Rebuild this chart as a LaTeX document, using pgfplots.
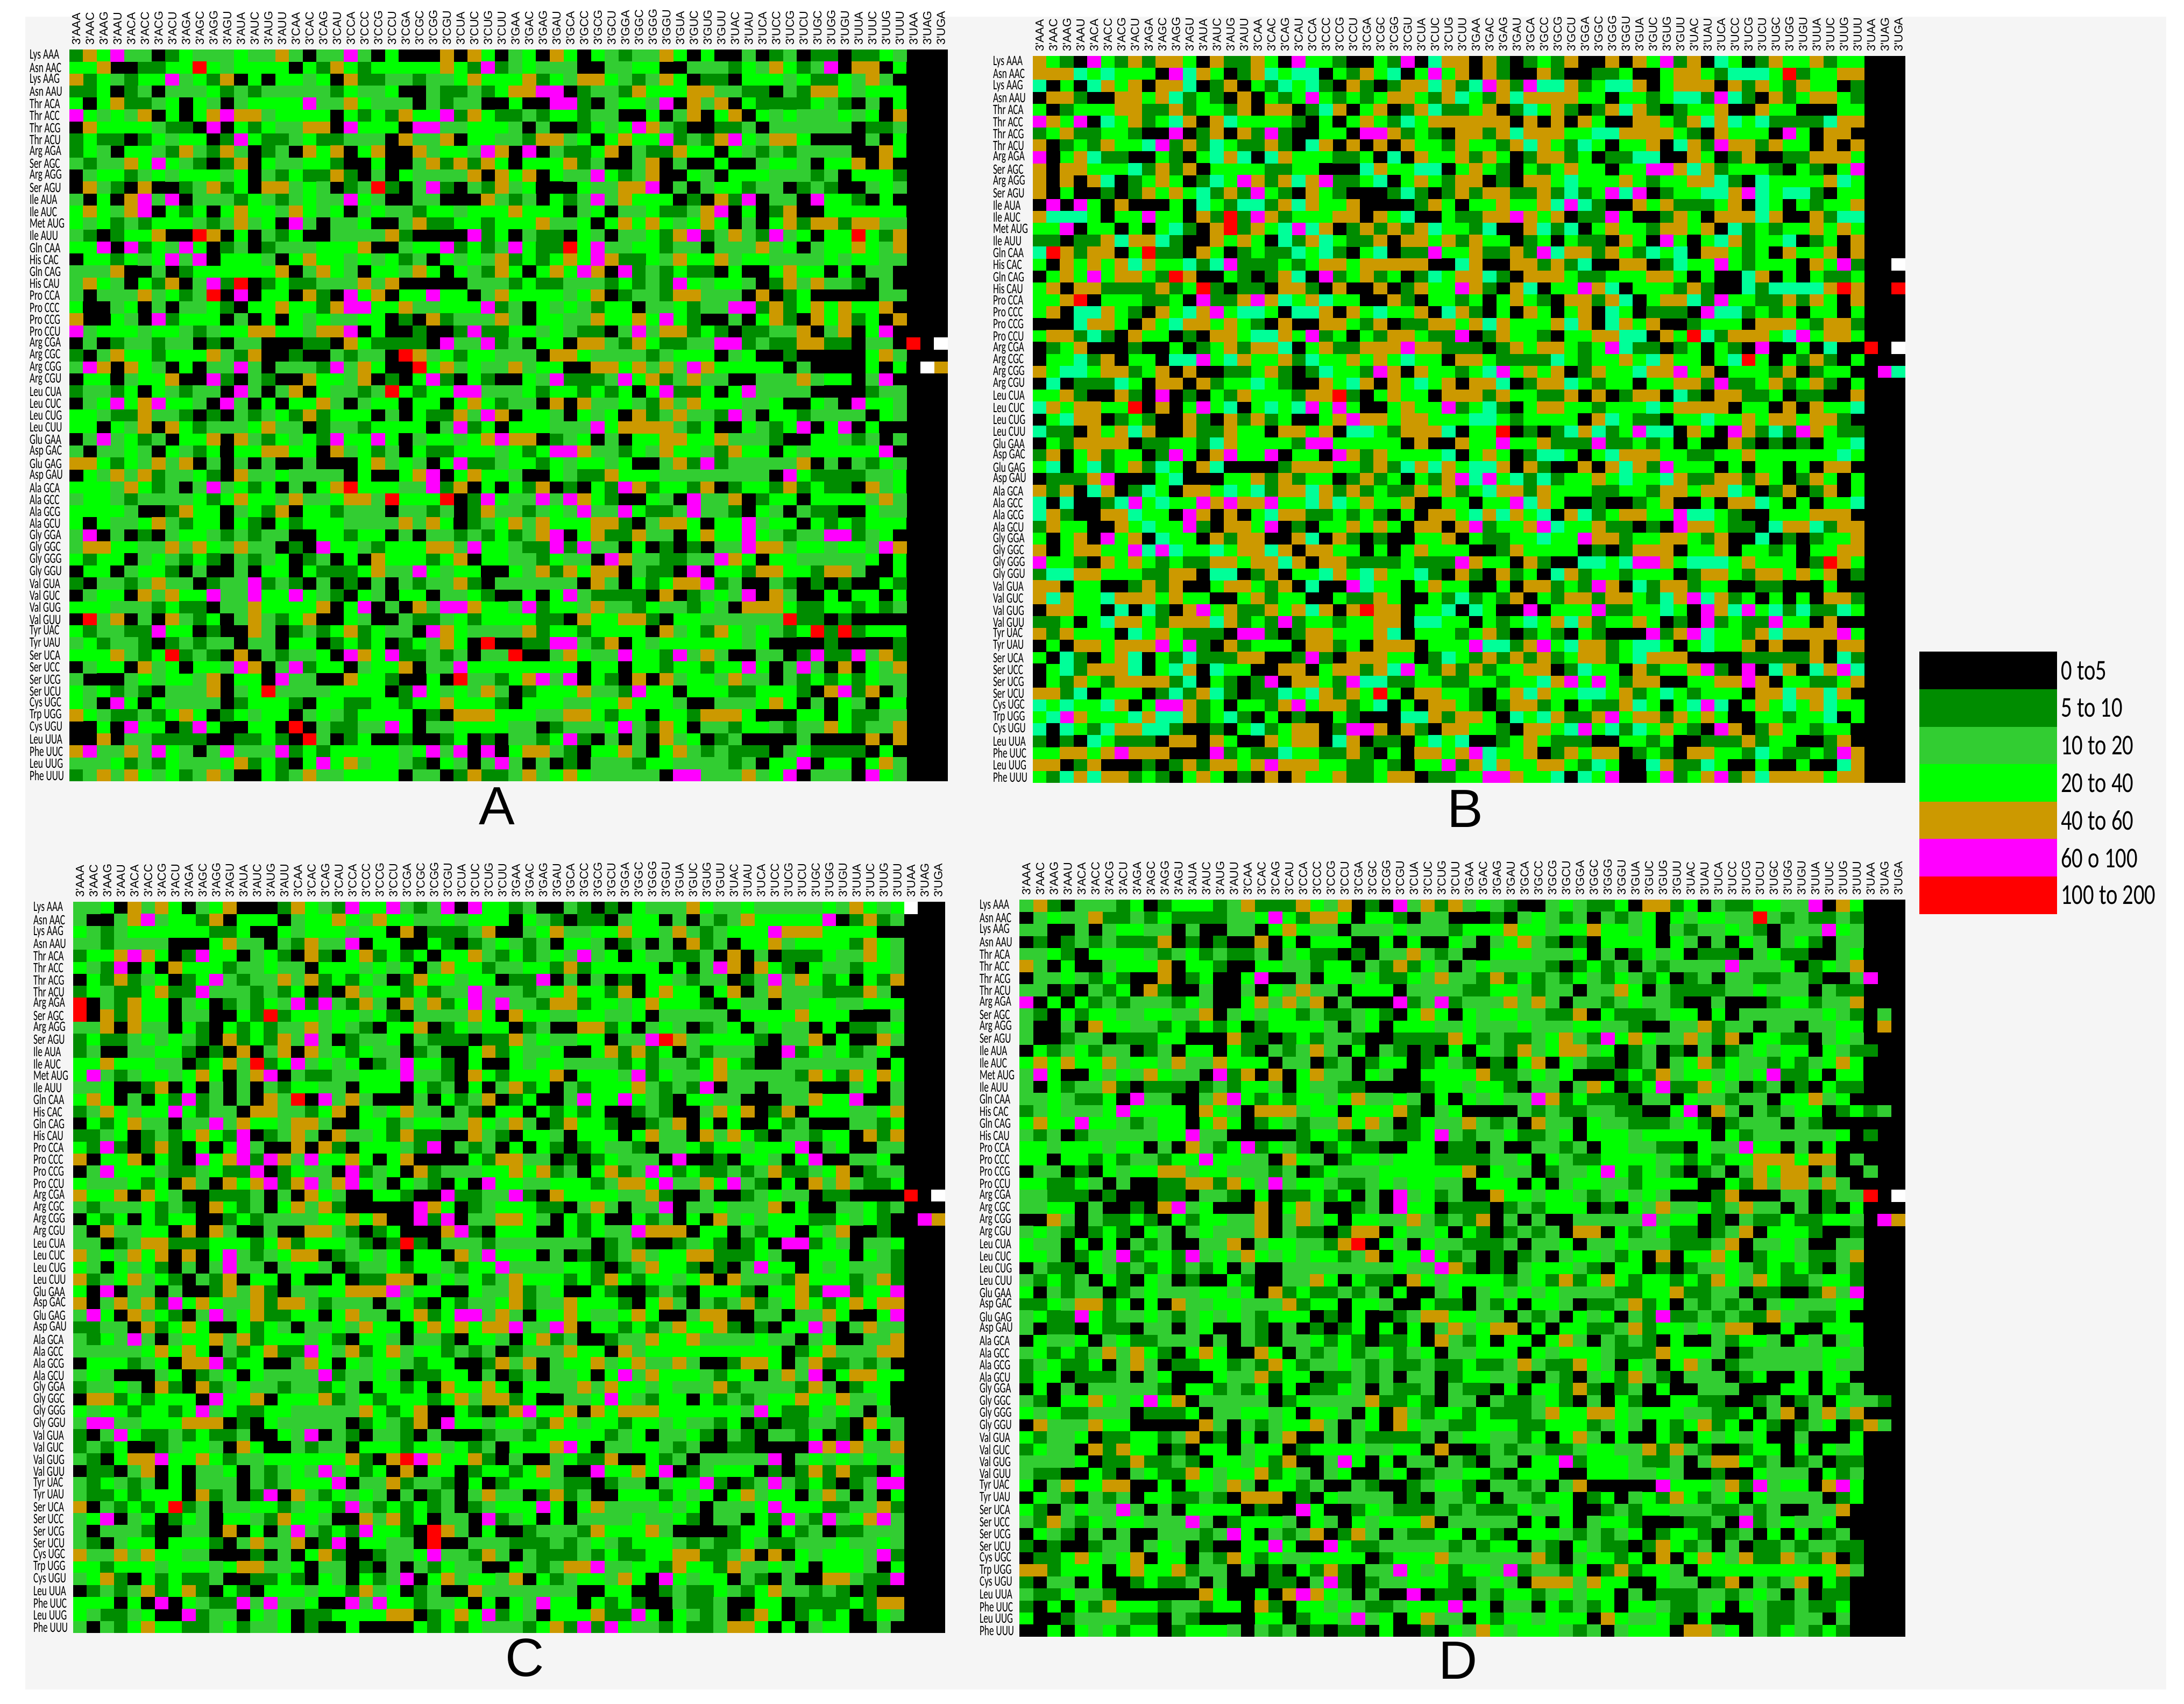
\documentclass[border=0pt]{standalone}
\usepackage{pgfplots}
\pgfplotsset{compat=1.18}
\usepackage{fontspec}
\setmainfont{Carlito}
\newfontfamily\arialfont{Liberation Sans}
\definecolor{pagebg}{HTML}{F5F5F5}
% classes: 0 black, 1 dark green, 2 lime, 3 bright green, 4 gold, 5 magenta, 6 red, 7 white, 8 spring green
\definecolor{c0}{RGB}{0,0,0}
\definecolor{c1}{RGB}{0,140,0}
\definecolor{c2}{RGB}{50,205,50}
\definecolor{c3}{RGB}{0,255,0}
\definecolor{c4}{RGB}{204,153,0}
\definecolor{c5}{RGB}{255,0,255}
\definecolor{c6}{RGB}{255,0,0}
\definecolor{c7}{RGB}{255,255,255}
\definecolor{c8}{RGB}{0,255,153}

\def\colnames{3'AAA,3'AAC,3'AAG,3'AAU,3'ACA,3'ACC,3'ACG,3'ACU,3'AGA,3'AGC,3'AGG,3'AGU,3'AUA,3'AUC,3'AUG,3'AUU,3'CAA,3'CAC,3'CAG,3'CAU,3'CCA,3'CCC,3'CCG,3'CCU,3'CGA,3'CGC,3'CGG,3'CGU,3'CUA,3'CUC,3'CUG,3'CUU,3'GAA,3'GAC,3'GAG,3'GAU,3'GCA,3'GCC,3'GCG,3'GCU,3'GGA,3'GGC,3'GGG,3'GGU,3'GUA,3'GUC,3'GUG,3'GUU,3'UAC,3'UAU,3'UCA,3'UCC,3'UCG,3'UCU,3'UGC,3'UGG,3'UGU,3'UUA,3'UUC,3'UUG,3'UUU,3'UAA,3'UAG,3'UGA}
\def\rownames{Lys AAA,Asn AAC,Lys AAG,Asn AAU,Thr ACA,Thr ACC,Thr ACG,Thr ACU,Arg AGA,Ser AGC,Arg AGG,Ser AGU,Ile AUA,Ile AUC,Met AUG,Ile AUU,Gln CAA,His CAC,Gln CAG,His CAU,Pro CCA,Pro CCC,Pro CCG,Pro CCU,Arg CGA,Arg CGC,Arg CGG,Arg CGU,Leu CUA,Leu CUC,Leu CUG,Leu CUU,Glu GAA,Asp GAC,Glu GAG,Asp GAU,Ala GCA,Ala GCC,Ala GCG,Ala GCU,Gly GGA,Gly GGC,Gly GGG,Gly GGU,Val GUA,Val GUC,Val GUG,Val GUU,Tyr UAC,Tyr UAU,Ser UCA,Ser UCC,Ser UCG,Ser UCU,Cys UGC,Trp UGG,Cys UGU,Leu UUA,Phe UUC,Leu UUG,Phe UUU}

\pgfdeclareplotmark{cell}{\pgfpathrectanglecorners{\pgfpoint{-\cellw}{-\cellh}}{\pgfpoint{\cellw}{\cellh}}\pgfusepathqfill}

% one class of one panel: turn the rows (ending in /) into (col,row) pairs
\def\dropone#1{}
\def\keepone#1{#1}
\def\cellnext#1#2#3{\ifx\relax#3\expandafter\dropone\else\expandafter\keepone\fi
 {\ifx/#3\expandafter\cellrow\else\expandafter\cellput\fi{#1}{#2}{#3}}}
\def\cellrow#1#2#3{\expandafter\cellrowb\the\numexpr#2+1;}
\def\cellrowb#1;{\cellnext{0}{#1}}
\def\cellput#1#2#3{\ifnum#3=\curcl\space(#1,#2) \fi\expandafter\cellputb\the\numexpr#1+1;{#2}}
\def\cellputb#1;#2{\cellnext{#1}{#2}}
\def\cellstart{\cellnext{0}{0}}

% panel: left, right, top, bottom in image pixels (1 px = 0.12pt), data, classes to draw
\newcommand{\panel}[6]{%
 \pgfmathsetmacro{\pw}{(#2-#1)*0.12}\pgfmathsetmacro{\ph}{(#4-#3)*0.12}%
 \pgfmathsetmacro{\px}{#1*0.12}\pgfmathsetmacro{\py}{(3167-#4)*0.12}%
 \pgfmathsetmacro{\hw}{\pw/128+0.02}\pgfmathsetmacro{\hh}{\ph/122+0.02}%
 \xdef\cellw{\hw pt}\xdef\cellh{\hh pt}%
 \begin{axis}[at={(\px pt,\py pt)},anchor=south west,scale only axis,width=\pw pt,height=\ph pt,
  xmin=-0.5,xmax=63.5,ymin=-0.5,ymax=60.5,y dir=reverse,axis line style={draw=none},
  major tick length=0pt,xtick={0,...,63},ytick={0,...,60},
  xticklabels/.expand once=\colnames,yticklabels/.expand once=\rownames,
  xticklabel pos=right,disabledatascaling,
  xticklabel style={rotate=90,anchor=west,font=\arialfont\fontsize{2.6}{3}\selectfont,inner sep=0.8pt},
  yticklabel style={anchor=west,font=\fontsize{3.2}{3.6}\selectfont,inner sep=0pt,xshift=-9pt,xscale=0.65},
  clip=false]
  \addplot[draw=none,fill=c3] coordinates {(-0.5,-0.5) (63.5,-0.5) (63.5,60.5) (-0.5,60.5)} -- cycle;
  \foreach \curcl in {#6}{%
   \edef\tmp{\noexpand\addplot[only marks,mark=cell,color=c\curcl] coordinates {\expandafter\cellstart#5\relax};}\tmp}
 \end{axis}}

\def\dataA{
1 4 3 5 2 2 0 1  3 2 2 2 3 2 2 4  2 0 2 2 5 2 0 3  0 0 0 4 0 4 3 0  2 3 0 4 3 0 3 2  1 2 2 4 3 0 3 0  0 2 0 1 2 0 1 1  0 1 1 3 2 0 0 0 /
3 3 4 0 0 1 1 3  3 6 3 2 3 3 3 3  0 3 1 4 3 1 3 3  3 3 3 4 3 1 5 1  2 3 2 2 2 0 0 2  2 3 3 0 0 2 2 2  1 3 2 4 3 1 2 5  0 4 4 0 3 0 0 0 /
4 1 3 2 1 3 3 5  2 3 1 4 0 3 0 3  3 2 3 0 4 1 1 2  2 1 2 2 3 4 3 3  3 4 1 3 2 4 4 3  2 1 2 4 3 0 1 1  0 3 3 3 2 3 1 1  3 2 4 2 0 0 0 0 /
1 1 3 0 1 2 0 2  2 2 3 1 2 1 2 2  2 2 2 1 3 2 2 3  0 0 2 1 1 2 1 3  4 4 5 5 0 1 2 2  1 4 3 3 3 4 4 2  2 1 1 0 2 1 4 4  3 2 3 3 3 0 0 0 /
3 0 3 4 1 1 2 3  0 3 2 0 2 3 3 3  3 5 2 2 4 3 2 2  2 0 2 1 2 2 0 0  3 0 0 5 5 1 0 2  3 3 2 5 0 4 2 4  0 3 1 1 1 1 3 2  1 0 2 0 3 0 0 0 /
5 3 2 3 2 4 0 3  0 3 4 5 4 4 2 3  3 3 3 0 3 1 3 1  4 3 3 5 1 4 3 1  1 2 1 3 3 1 2 2  0 0 3 0 2 4 0 3  4 0 3 2 3 2 2 2  3 2 3 0 4 0 0 0 /
0 4 3 3 3 3 2 1  1 0 5 0 3 1 3 2  2 4 4 0 5 3 3 3  0 5 5 2 2 3 3 3  2 0 2 0 0 1 3 2  3 5 4 2 1 0 0 1  1 2 0 2 2 2 2 2  2 0 1 1 2 0 0 0 /
1 3 1 1 0 1 3 2  3 3 0 1 5 3 1 1  2 3 1 1 2 2 2 0  4 2 2 4 0 3 3 2  2 1 4 4 2 3 0 3  4 3 3 5 1 2 1 4  5 3 2 4 4 3 0 0  0 0 2 0 3 0 0 0 /
1 3 2 0 3 3 2 1  4 2 1 4 2 0 1 2  0 4 3 4 0 3 4 0  0 4 2 3 3 2 5 4  0 5 0 2 1 1 3 4  0 2 1 1 4 3 3 0  3 2 1 2 1 2 2 2  2 0 0 4 3 0 0 0 /
2 1 2 2 4 3 5 3  2 1 0 1 4 0 3 2  2 3 3 1 0 0 3 0  0 2 4 1 4 1 4 3  0 3 3 3 4 1 2 0  0 2 4 0 2 0 0 3  0 0 2 3 3 2 0 3  3 4 0 4 0 0 0 0 /
0 2 3 3 1 2 3 2  3 3 3 2 3 0 2 1  3 1 1 4 1 0 2 0  3 2 2 2 2 4 0 4  3 4 0 3 2 2 5 3  1 2 4 0 0 3 2 0  3 3 3 2 2 2 1 2  0 3 3 3 1 0 0 0 /
0 4 2 1 0 4 0 0  1 2 4 1 3 0 4 4  2 3 2 0 1 2 6 1  0 2 5 1 0 2 1 4  2 3 0 0 0 3 2 2  4 4 5 0 2 0 2 3  3 1 2 2 0 1 2 1  0 0 2 3 2 0 0 0 /
2 0 3 0 4 5 2 5  0 2 2 2 1 3 2 1  2 3 2 2 5 3 2 0  0 2 2 0 0 0 4 2  1 2 0 3 1 2 5 2  4 3 3 3 0 1 0 4  1 5 0 2 2 0 5 3  3 1 0 3 0 0 0 0 /
3 4 3 2 4 5 0 3  1 3 0 3 4 3 3 2  4 3 2 3 0 2 3 2  2 1 3 3 2 3 3 3  4 3 3 3 0 2 3 0  2 2 3 1 1 2 4 5  0 3 0 1 4 0 0 3  3 3 3 3 3 0 0 0 /
3 2 3 1 2 1 3 3  3 2 1 2 4 2 3 0  5 2 0 2 2 3 0 0  2 4 1 1 3 3 1 3  3 3 4 2 2 3 0 3  4 3 4 3 2 3 4 3  0 2 0 3 4 1 4 4  1 4 4 2 2 0 0 0 /
2 1 0 1 3 3 4 0  0 6 4 0 3 0 2 1  3 0 0 2 2 2 2 4  1 0 0 0 0 5 1 3  0 2 1 1 0 3 2 0  2 2 3 1 4 5 1 2  4 2 1 5 2 3 0 3  3 6 3 1 4 0 0 0 /
3 3 5 0 5 1 3 2  5 3 0 1 2 0 1 2  2 2 3 3 3 4 0 0  2 3 3 5 1 3 1 2  5 3 1 1 6 3 5 2  2 3 3 1 2 2 0 2  2 2 4 2 3 0 2 3  3 4 3 2 4 0 0 0 /
0 3 3 1 3 2 3 5  2 5 0 3 3 3 2 0  3 4 3 3 2 3 2 3  1 2 0 3 2 3 2 4  1 3 1 3 4 3 5 4  1 1 3 2 4 3 3 4  2 3 3 2 2 2 2 3  2 3 3 2 2 0 0 0 /
2 2 2 4 0 0 2 0  1 3 3 3 3 3 3 4  0 2 4 3 2 0 3 3  2 4 3 0 3 2 1 4  3 0 3 4 3 5 4 0  5 1 2 1 3 1 1 0  3 0 0 3 4 3 3 0  3 0 2 2 0 0 0 0 /
2 4 3 2 0 3 1 4  0 2 5 1 6 0 1 3  1 1 2 2 2 4 2 4  0 0 0 0 0 2 2 2  1 3 1 1 2 2 2 1  3 1 2 1 5 3 2 3  3 2 0 1 4 2 4 2  2 1 0 2 0 0 0 0 /
2 0 2 2 2 4 2 3  1 2 6 0 5 0 3 3  0 4 1 0 5 3 4 0  3 3 5 3 3 0 2 4  3 3 3 3 2 3 4 0  1 2 2 1 4 4 2 2  2 0 4 0 1 3 0 0  0 0 0 2 2 0 0 0 /
3 0 0 2 3 0 2 0  2 2 3 1 0 3 3 4  3 3 1 4 5 5 3 3  4 2 2 3 3 3 5 1  2 0 3 2 3 2 1 3  3 0 2 2 3 1 2 2  5 5 1 4 1 3 4 3  4 3 3 4 0 0 0 0 /
4 0 0 3 2 0 5 1  3 3 3 0 2 0 3 0  3 2 3 2 2 3 3 0  1 0 4 1 2 2 2 4  2 0 3 3 2 2 4 3  3 4 3 5 3 1 0 0  2 0 3 4 1 0 4 3  4 1 3 0 4 0 0 0 /
5 2 3 3 3 2 3 3  2 1 2 3 3 4 4 3  3 2 4 4 5 0 3 0  0 1 0 0 1 5 1 1  3 3 2 3 2 1 1 0  2 5 2 4 4 1 3 1  0 1 1 2 2 4 0 2  4 0 3 5 0 0 0 0 /
0 2 0 1 2 2 1 2  2 0 1 0 2 2 0 0  0 1 1 0 4 3 1 1  1 1 0 5 2 2 5 1  2 0 3 3 0 4 4 2  1 4 3 1 1 2 2 5  5 1 2 1 1 4 4 1  1 0 2 2 0 6 0 7 /
1 0 2 4 3 3 1 3  3 3 4 2 1 4 0 0  1 0 0 2 1 2 2 0  6 4 2 3 1 3 3 2  2 2 0 4 4 3 2 2  2 2 1 2 3 3 3 0  2 3 0 0 1 0 0 0  0 0 3 4 2 0 0 0 /
2 5 4 0 4 3 2 0  3 0 2 2 5 2 0 2  2 2 1 5 2 4 3 0  0 6 3 4 2 3 2 2  4 2 3 3 0 0 4 4  3 4 2 4 2 5 4 3  3 3 3 3 0 2 0 0  0 0 3 0 3 0 7 4 /
0 3 3 0 2 3 3 4  0 0 5 1 0 2 1 0  0 4 3 3 2 4 0 1  0 3 5 1 0 3 1 0  0 3 2 5 1 1 1 2  5 3 4 1 2 4 2 2  0 0 2 2 2 4 2 3  3 0 2 5 0 0 0 0 /
1 2 2 1 3 0 3 2  1 2 2 0 5 2 0 2  4 0 3 2 2 1 2 6  3 1 3 3 5 5 2 2  2 3 1 3 3 1 3 1  3 0 3 5 1 1 3 0  3 5 2 2 2 2 0 0  0 0 1 2 2 0 0 0 /
0 2 3 5 3 4 5 3  3 2 0 5 2 0 3 0  3 3 4 2 0 2 3 3  0 3 3 0 3 4 3 1  2 2 0 4 0 4 2 2  3 2 1 4 2 4 3 3  3 2 2 3 0 0 3 2  0 5 3 3 2 0 0 0 /
3 3 2 1 1 4 2 2  1 0 1 0 2 1 2 3  1 4 1 3 3 3 0 2  0 3 1 1 4 2 5 4  0 3 3 2 0 3 2 3  0 4 1 2 4 2 2 1  5 2 0 3 3 1 2 2  2 2 0 3 2 0 0 0 /
3 3 0 3 2 4 0 4  3 1 2 2 2 3 4 2  2 0 1 2 2 1 3 3  3 3 0 2 5 1 3 0  3 3 3 2 2 2 5 3  4 4 4 4 2 1 3 0  0 3 2 1 3 5 0 3  5 0 3 0 0 0 0 0 /
0 2 5 2 3 1 2 0  3 3 4 0 4 2 1 3  2 3 1 5 3 3 5 3  0 2 3 3 2 3 4 5  4 4 0 1 2 3 0 2  0 3 3 4 4 3 3 4  2 2 2 1 0 0 3 3  2 1 2 0 2 0 0 0 /
2 0 2 2 3 2 0 3  2 1 3 0 3 3 4 4  3 3 0 4 2 3 1 2  0 3 1 1 3 3 3 2  3 1 3 5 5 4 2 2  1 3 2 4 3 3 2 1  4 3 3 0 3 2 3 3  3 3 3 5 0 0 0 0 /
4 4 3 1 3 2 4 2  4 0 2 0 2 0 2 0  0 2 0 0 0 3 4 2  3 2 0 3 5 1 1 2  3 3 1 3 2 3 3 2  3 0 0 2 4 1 5 1  2 2 2 2 2 4 0 2  0 2 1 3 2 0 0 0 /
0 3 2 4 2 4 1 2  2 3 1 0 4 2 2 3  2 2 2 2 0 3 0 0  3 4 5 0 3 4 3 3  2 0 0 3 2 1 1 4  3 3 3 2 2 2 2 2  2 2 2 0 5 3 1 1  1 1 2 2 3 0 0 0 /
3 3 3 2 4 3 1 2  0 2 5 2 3 1 3 0  2 0 3 4 6 3 3 3  2 2 5 1 4 0 3 0  3 1 4 0 1 0 3 1  5 4 1 3 3 1 4 0  1 3 3 1 4 1 3 1  1 0 4 2 3 0 0 0 /
2 3 3 2 1 2 2 2  2 3 1 3 4 3 3 2  4 2 2 3 4 4 2 6  3 3 3 6 0 1 5 3  2 2 5 2 5 4 3 1  0 0 3 2 0 5 2 2  4 0 1 3 3 0 3 3  3 3 2 4 2 0 0 0 /
3 3 3 3 2 0 0 1  4 3 3 0 2 3 1 4  0 3 3 1 2 2 2 0  2 2 1 2 0 1 4 2  2 1 2 3 2 5 2 2  5 3 1 1 2 5 2 2  1 0 3 2 0 2 1 1  0 0 3 2 2 0 0 0 /
3 0 3 2 2 3 4 2  1 3 3 0 3 1 0 3  1 3 3 3 2 2 2 2  4 2 4 3 0 1 2 3  4 2 4 3 3 3 4 4  1 0 2 4 4 3 0 3  3 5 2 3 3 0 3 1  3 1 3 3 3 0 0 0 /
2 5 0 2 0 1 0 2  3 3 2 1 2 1 2 2  0 0 3 3 1 3 3 0  2 0 2 2 1 2 1 3  1 2 4 5 0 3 4 1  1 4 2 2 0 3 4 3  3 5 3 2 1 2 2 5  5 1 2 3 0 0 0 0 /
2 4 4 3 3 2 2 4  2 4 3 2 4 2 2 0  1 0 5 3 3 2 1 3  3 3 4 4 2 5 3 3  2 1 1 5 1 5 2 2  0 3 0 1 0 1 0 2  2 5 4 4 2 3 3 2  3 3 2 5 4 0 0 0 /
3 1 3 3 0 2 3 2  1 3 1 0 2 1 2 3  0 1 2 0 3 0 4 3  3 3 1 3 4 0 3 3  2 2 1 3 2 2 0 5  4 2 2 1 1 2 2 5  4 3 0 3 3 2 2 2  2 2 3 0 3 0 0 0 /
0 3 3 0 2 3 3 1  0 2 0 0 2 0 3 3  0 3 1 1 1 3 4 2  2 5 3 2 3 3 0 0  3 2 4 1 4 3 4 4  0 2 1 1 0 5 0 3  3 1 4 4 3 3 1 4  4 2 0 0 3 0 0 0 /
1 0 2 2 1 2 4 2  2 0 1 2 2 5 1 2  1 0 2 0 1 0 2 0  2 1 2 2 4 1 0 2  2 2 2 2 2 0 4 2  0 3 1 3 4 4 5 1  2 0 0 2 1 0 1 0  1 0 0 3 1 0 0 0 /
0 2 3 3 0 4 2 4  3 3 5 2 2 5 3 3  5 3 2 1 0 3 2 0  3 3 0 2 2 3 1 0  0 3 0 3 5 2 1 1  1 1 0 4 0 1 2 3  2 5 0 4 2 0 0 3  0 3 3 0 3 0 0 0 /
3 3 3 2 2 2 1 3  1 1 0 2 2 4 3 3  3 3 4 0 3 5 0 2  0 4 2 5 5 4 3 3  2 5 1 3 3 2 4 2  2 1 3 2 2 1 3 2  0 4 4 4 3 1 1 3  3 1 3 1 2 0 0 0 /
0 6 2 4 0 2 0 4  2 1 3 0 2 4 2 1  3 4 0 0 3 2 0 0  2 1 1 2 3 1 3 3  3 3 1 1 0 4 3 3  4 4 1 0 3 3 2 2  2 2 2 2 6 1 1 0  1 0 0 0 0 0 0 0 /
3 1 2 2 1 1 5 3  3 0 1 0 0 4 2 0  1 2 1 3 4 1 3 2  2 0 5 4 3 2 2 2  2 4 1 3 3 1 3 3  3 3 0 4 2 3 1 4  3 2 3 2 1 3 6 1  6 1 3 3 3 0 0 0 /
2 3 1 2 2 1 0 1  2 1 2 2 0 2 2 0  3 3 0 1 3 1 3 0  1 3 2 4 3 0 6 0  0 1 1 5 5 2 1 4  0 3 2 3 3 3 3 3  3 2 3 0 0 0 0 1  0 0 0 0 1 0 0 0 /
3 3 3 4 2 1 3 6  1 2 1 0 4 0 2 1  2 2 3 0 5 4 3 5  1 1 2 1 2 0 2 2  6 0 0 2 4 3 2 2  5 3 3 1 5 2 4 2  0 0 2 2 0 1 5 1  1 5 2 4 1 0 0 0 /
0 2 3 3 0 4 2 3  0 3 3 2 5 4 0 2  5 1 3 3 0 2 3 3  4 0 2 2 5 3 3 3  3 3 3 3 3 0 3 3  0 3 3 1 3 3 1 3  3 5 3 0 2 5 2 0  4 0 3 2 4 0 0 0 /
2 0 0 0 2 3 2 3  3 2 4 0 3 3 0 5  2 2 0 0 4 3 3 1  0 0 3 0 6 2 2 1  3 4 5 2 5 0 3 1  0 4 0 4 2 3 3 2  4 2 2 0 2 1 3 1  3 1 3 2 2 0 0 0 /
3 2 3 1 2 1 0 2  2 2 4 0 2 3 6 2  2 2 2 3 3 3 3 0  1 5 3 2 3 2 4 2  0 1 3 3 3 4 2 2  1 5 3 3 0 3 3 3  1 1 3 3 3 1 0 4  5 1 4 0 2 0 0 0 /
3 2 0 5 3 0 3 2  2 2 2 0 1 3 3 3  1 0 3 3 1 1 3 3  1 3 3 4 3 3 3 1  0 3 3 3 2 2 3 3  4 3 3 3 2 0 0 2  2 2 3 4 3 0 2 0  3 2 0 3 3 0 0 0 /
4 3 2 1 1 2 1 3  4 3 0 1 3 2 3 3  0 2 3 2 1 3 3 3  3 0 1 0 4 4 4 3  3 3 2 2 4 4 3 1  3 3 0 3 3 1 4 4  4 3 0 0 0 3 3 0  3 1 1 2 2 0 0 0 /
0 0 3 0 5 3 3 0  1 5 3 0 0 3 3 0  6 0 2 1 1 2 2 5  3 0 2 2 3 3 3 3  2 2 0 1 2 2 2 3  5 2 1 4 3 0 2 2  1 3 3 2 1 2 2 4  3 1 2 2 4 0 0 0 /
0 0 4 0 2 2 1 1  1 1 0 0 1 1 3 1  0 6 2 0 1 3 0 0  1 0 0 1 3 0 1 0  2 2 1 3 5 1 0 2  0 2 0 4 2 3 0 1  2 0 0 0 0 2 0 0  0 0 4 0 4 0 0 0 /
4 5 2 2 4 2 5 3  2 0 2 5 2 2 2 5  1 3 1 3 3 3 3 3  2 3 5 2 5 0 5 0  3 4 4 2 1 0 3 3  4 2 0 3 4 2 1 2  1 1 1 0 2 3 1 1  1 1 0 3 0 0 0 0 /
2 2 2 3 1 2 1 3  2 2 2 3 4 1 3 1  0 3 5 3 4 2 3 3  2 1 0 3 2 0 2 5  2 0 2 0 1 0 2 2  2 1 3 3 2 2 2 2  1 2 0 3 3 5 0 3  3 0 3 4 2 0 0 0 /
1 2 4 2 4 3 2 3  1 2 4 2 0 0 3 1  2 4 2 2 3 3 3 3  0 2 2 0 1 4 1 1  2 4 2 3 4 3 2 2  2 2 2 0 5 5 2 2  2 4 2 3 5 0 2 2  2 0 5 3 2 0 0 0 /
}

\def\dataB{
4 3 1 0 5 3 1 4  1 4 4 3 0 4 1 1  4 3 0 5 3 3 1 0  0 3 1 5 0 8 4 4  0 4 1 0 1 3 1 4  0 0 4 0 4 3 5 1  4 0 8 3 0 1 4 3  3 4 1 3 3 0 0 0 /
4 4 4 8 3 8 3 3  3 0 5 8 4 3 0 1  4 8 3 8 8 0 3 1  4 3 8 0 3 5 3 4  0 4 1 0 0 4 1 0  0 1 1 3 0 0 3 4  4 3 1 8 8 8 3 6  1 3 3 4 4 0 0 0 /
8 0 3 0 8 4 3 4  0 4 4 8 0 1 4 0  3 1 8 3 8 1 0 4  1 0 1 4 4 8 4 1  8 5 4 1 5 8 8 4  1 3 8 8 4 0 3 4  4 4 0 4 1 4 3 1  4 3 3 0 1 0 0 0 /
0 4 4 1 0 0 4 4  3 4 8 1 3 1 0 4  0 3 1 3 5 3 1 3  1 3 4 4 3 1 4 8  3 1 4 8 4 4 4 4  3 3 0 3 3 1 3 8  8 1 5 8 1 0 4 1  3 4 4 3 1 0 0 0 /
3 0 1 3 3 3 4 4  1 1 4 1 3 3 1 4  0 4 4 0 1 8 4 0  3 4 0 1 4 8 1 1  3 4 0 1 8 3 4 1  0 1 4 8 4 1 0 1  3 3 4 0 0 4 3 3  0 0 0 3 3 0 0 0 /
5 4 3 5 0 8 3 4  1 3 8 4 0 4 8 3  3 3 3 1 0 3 0 3  4 3 1 8 3 4 4 4  4 4 4 0 4 0 4 0  4 3 0 0 4 4 3 1  4 8 4 8 3 8 1 1  1 1 8 4 4 0 0 0 /
1 3 4 1 1 3 3 1  0 0 5 0 1 4 0 4  1 5 1 0 0 3 3 0  5 5 4 1 3 1 0 4  4 1 4 8 4 4 4 3  3 8 8 4 4 4 4 3  1 0 4 3 3 3 0 5  3 0 4 4 0 0 0 0 /
4 0 1 3 1 4 3 3  8 5 1 4 1 8 3 1  1 4 1 0 8 4 0 4  0 4 0 4 3 3 1 4  3 3 1 4 8 4 3 1  8 3 0 3 3 4 0 8  4 1 5 4 4 1 4 3  3 0 4 0 4 0 0 0 /
5 0 3 4 8 1 1 0  0 3 1 0 3 8 4 8  0 8 4 3 3 3 1 1  3 0 8 0 4 3 3 4  1 4 3 0 1 4 4 1  3 0 1 1 8 8 0 0  4 3 0 1 4 0 0 1  1 4 4 4 3 0 0 0 /
4 0 4 4 3 3 3 8  1 4 1 4 0 3 3 3  3 1 1 3 3 0 0 0  8 4 3 3 8 8 0 3  4 3 1 0 3 1 3 4  3 3 0 3 3 5 5 4  8 4 1 3 3 3 1 0  3 1 0 3 5 0 0 0 /
4 0 4 0 4 8 0 1  3 4 3 0 1 8 3 5  4 1 4 8 4 5 1 1  3 8 0 3 4 3 1 4  4 0 1 0 4 4 3 8  3 3 3 4 3 1 3 3  4 4 8 1 0 8 3 3  3 3 4 8 3 0 0 0 /
4 0 3 0 0 1 0 1  4 3 4 3 8 1 4 1  5 3 1 0 4 3 1 0  0 0 1 8 1 0 1 4  1 4 4 1 1 4 1 8  1 3 5 8 5 0 1 3  3 8 8 4 5 8 3 8  8 1 0 3 3 0 0 0 /
0 5 0 5 3 0 4 0  0 0 3 0 8 3 1 8  8 1 4 8 4 3 3 4  0 0 0 0 1 4 3 0  3 3 4 3 3 4 8 5  8 1 0 0 4 3 4 1  1 1 3 4 0 8 3 0  3 1 3 3 4 0 0 0 /
4 8 8 8 3 0 3 3  5 3 3 0 4 1 6 1  5 4 1 3 3 3 4 4  0 4 3 8 0 0 3 1  1 4 4 5 4 3 4 0  1 1 5 3 0 0 1 4  3 0 4 4 4 8 4 0  0 4 1 8 8 0 0 0 /
3 3 5 0 3 3 0 3  0 3 8 1 0 4 6 1  4 3 8 5 8 4 0 1  4 1 4 1 4 8 3 3  1 8 0 0 4 8 1 8  0 3 4 3 3 1 4 4  3 4 0 8 1 3 1 3  3 4 3 4 3 0 0 0 /
1 1 0 1 1 4 8 4  4 8 1 0 0 4 3 4  3 0 8 1 4 8 3 1  1 4 0 4 4 3 4 1  4 3 3 0 1 3 0 3  1 1 0 4 3 0 5 3  0 3 8 4 1 3 3 8  0 1 3 0 4 0 0 0 /
8 6 4 1 4 4 0 3  6 1 1 0 4 3 0 1  3 1 1 8 3 8 1 0  3 8 0 1 1 5 3 3  4 1 1 4 1 5 8 4  4 1 4 3 1 8 3 8  0 4 4 3 1 3 0 4  3 3 4 0 4 0 0 0 /
3 0 4 3 4 3 4 8  4 3 3 8 1 8 5 1  1 1 3 1 3 4 4 3  4 4 4 4 4 0 0 8  4 0 0 4 4 1 4 1  8 0 0 4 4 0 1 8  3 3 5 3 1 3 3 3  0 4 3 5 1 0 0 7 /
0 3 4 3 5 3 4 4  3 1 6 4 0 0 3 1  0 1 4 8 0 5 1 3  4 1 3 0 1 8 3 4  4 8 1 0 4 4 4 3  1 1 3 3 3 4 4 3  0 3 0 0 8 4 0 3  0 3 1 1 3 0 0 0 /
3 4 0 4 4 1 1 1  1 4 1 3 6 1 0 1  1 0 4 4 1 0 4 0  0 4 0 1 4 3 3 5  4 1 0 4 8 0 3 3  5 4 8 0 3 3 3 1  4 1 0 0 8 1 8 8  8 8 4 6 4 0 0 6 /
3 3 4 6 0 3 3 3  1 1 3 0 5 1 1 4  5 4 8 3 4 8 3 3  0 0 4 1 0 3 3 1  3 0 3 4 3 1 0 4  4 1 4 8 0 3 4 4  8 1 5 3 3 1 1 4  1 4 3 0 4 0 0 0 /
3 4 0 8 8 4 3 1  0 4 3 8 4 5 3 8  8 3 0 8 8 4 0 4  3 8 3 3 4 0 8 4  1 0 3 0 4 3 0 3  4 0 8 3 0 1 1 1  0 5 8 8 1 3 1 3  0 3 3 0 3 0 0 0 /
0 0 0 8 4 4 3 0  4 3 8 4 4 3 4 3  1 0 4 0 0 4 4 3  1 4 0 1 1 4 4 3  4 8 4 3 3 3 4 8  4 0 8 4 3 4 0 0  1 3 3 3 0 4 4 4  3 1 4 4 1 0 0 0 /
3 4 4 1 8 1 0 4  3 3 0 1 0 4 4 3  8 8 4 3 5 1 3 0  3 1 4 4 3 1 1 5  0 1 4 3 3 1 0 3  3 4 4 8 8 0 4 3  6 8 1 4 4 4 3 8  5 3 4 4 3 0 0 0 /
0 1 3 4 0 0 0 1  0 0 3 0 1 3 4 1  4 4 8 0 3 4 1 1  4 4 4 5 4 4 1 1  1 0 1 4 3 4 4 3  1 3 5 8 1 1 0 1  3 0 3 1 0 5 0 0  3 0 8 0 0 6 0 7 /
0 3 3 8 1 4 0 3  3 0 8 8 5 3 8 4  3 3 4 1 8 3 3 4  3 4 3 8 3 3 0 4  4 3 1 1 1 1 8 3  1 3 3 4 3 8 4 3  3 0 3 8 6 3 0 3  1 4 1 0 3 0 0 0 /
4 3 8 8 3 4 4 1  3 4 0 4 0 0 1 1  3 4 1 0 1 8 3 3  1 5 4 0 4 3 3 1  3 8 5 3 4 3 4 0  1 4 3 3 8 4 4 5  3 4 0 3 3 3 1 4  0 1 3 3 0 0 5 8 /
0 8 0 1 1 1 8 3  0 4 4 0 4 1 3 3  8 3 1 0 0 4 3 8  4 0 4 3 8 3 4 0  4 4 8 0 1 4 4 8  3 1 3 3 0 3 3 4  4 1 5 1 1 3 4 1  3 4 1 0 3 0 0 0 /
3 3 4 1 0 0 4 1  0 5 0 1 0 3 1 4  3 3 3 1 4 4 6 1  0 3 4 3 3 0 4 4  4 1 4 3 3 1 1 4  0 4 0 1 4 4 0 8  1 0 4 4 1 1 3 0  1 1 0 0 4 0 0 0 /
8 4 3 4 4 3 3 6  0 4 0 3 5 3 8 0  3 8 3 8 5 3 5 3  0 0 3 4 3 3 5 1  3 8 1 0 3 4 4 3  3 1 3 3 3 8 3 4  4 4 4 0 3 3 0 4  0 4 3 3 8 0 0 0 /
0 3 8 4 4 0 1 3  1 0 0 4 1 0 4 1  4 1 3 0 0 3 4 5  4 4 3 4 4 3 3 3  8 8 3 1 3 3 3 3  0 4 8 3 1 1 0 3  3 8 3 3 4 3 4 4  3 4 4 1 0 0 0 0 /
8 1 1 0 4 3 4 8  4 0 0 4 1 1 4 3  3 0 4 4 3 4 0 8  8 3 1 4 4 4 8 0  3 3 6 0 1 0 1 8  4 8 1 3 5 8 8 0  4 3 0 5 4 1 8 1  5 4 3 1 1 0 0 0 /
0 3 1 4 4 4 4 0  1 1 3 3 1 8 4 3  3 3 3 1 5 5 3 3  3 3 3 0 4 0 0 4  3 3 5 3 3 4 1 1  1 5 1 1 3 1 3 0  3 0 0 4 1 0 1 0  1 0 3 3 8 0 0 0 /
1 4 0 3 4 1 3 3  0 1 5 3 0 4 5 3  3 5 0 3 3 0 5 4  1 4 3 3 3 3 8 0  3 4 3 0 1 8 8 3  0 3 8 4 4 4 3 3  1 1 3 3 4 3 3 3  3 3 3 8 3 0 0 0 /
3 8 0 3 8 1 3 4  1 8 3 0 4 8 0 0  0 0 1 4 4 4 3 3  1 4 1 8 4 8 4 3  8 8 4 0 4 1 0 0  4 0 4 8 4 1 5 3  3 3 0 3 0 3 3 0  3 0 4 4 0 0 0 0 /
0 1 1 1 4 5 0 0  0 3 8 0 0 0 3 3  4 1 4 1 3 3 0 1  4 1 3 0 3 1 4 5  8 5 3 8 1 8 1 3  3 4 3 8 3 3 8 4  1 1 4 4 1 4 3 0  1 4 3 0 3 0 0 0 /
4 1 4 0 8 4 0 1  8 3 0 4 4 3 8 3  8 1 4 4 8 4 1 4  1 3 1 1 4 3 4 1  3 8 4 4 1 4 3 3  3 1 1 3 3 1 4 4  3 4 4 8 3 0 1 4  0 1 4 0 3 0 0 0 /
8 0 8 0 0 1 8 5  3 8 3 3 5 4 5 4  4 5 3 3 8 4 8 3  4 3 3 4 0 0 3 3  0 3 3 5 8 4 3 0  0 1 0 0 1 3 4 0  0 3 0 4 4 8 3 0  3 0 3 3 8 0 0 0 /
8 4 1 0 0 4 4 8  3 3 0 5 4 0 4 0  3 8 4 4 1 1 3 1  3 1 0 3 0 4 4 3  8 4 8 4 3 8 0 4  8 1 3 4 4 3 3 5  8 8 3 1 0 0 3 3  3 4 4 4 0 0 0 0 /
1 4 3 3 0 0 4 3  8 3 3 5 1 0 4 4  3 5 0 1 0 3 3 4  3 4 3 0 4 4 0 4  5 1 3 3 4 5 8 3  3 4 1 1 0 1 0 5  4 4 3 1 1 0 8 4  4 8 1 4 4 0 0 0 /
3 0 3 4 0 5 3 4  0 8 3 3 0 4 1 4  4 0 0 4 8 0 4 1  0 1 0 0 3 3 4 0  3 1 1 3 3 8 3 3  5 4 4 1 3 3 4 4  3 1 4 0 0 8 0 1  0 1 3 3 4 0 0 0 /
4 0 3 4 4 3 3 5  8 5 8 3 3 8 3 4  4 8 4 0 4 4 3 3  0 3 0 3 4 3 3 3  0 0 1 4 3 3 3 3  0 1 0 1 4 4 4 0  3 3 4 0 3 3 1 3  0 3 3 4 4 0 0 0 /
5 3 3 1 0 4 3 4  3 1 3 1 1 4 4 3  4 4 8 4 0 4 4 1  1 1 1 3 1 1 1 5  4 3 3 0 4 1 0 0  8 8 3 8 5 5 4 3  8 8 8 3 4 3 3 3  0 1 6 4 3 0 0 0 /
1 8 8 4 4 3 3 3  1 1 4 4 0 8 8 0  1 4 0 3 3 8 4 3  8 4 3 3 8 1 0 4  1 0 4 1 3 0 8 4  1 3 3 1 3 3 3 0  1 4 4 3 1 4 4 3  4 3 4 0 1 0 0 0 /
4 4 0 3 3 0 0 1  4 1 4 0 0 3 4 4  3 1 4 0 8 0 0 5  8 3 3 0 3 4 3 3  0 0 3 0 4 4 1 3  1 5 4 0 8 1 4 4  1 3 3 0 0 1 1 0  0 0 3 0 0 0 0 0 /
4 8 4 3 3 8 4 4  4 3 4 3 3 0 0 3  4 1 3 3 0 0 3 1  1 4 3 0 0 3 1 8  1 3 1 4 0 3 1 4  4 1 4 4 3 1 8 4  5 8 4 1 3 0 3 0  3 0 4 4 1 0 0 0 /
0 4 4 3 3 0 8 0  8 1 0 4 5 3 4 1  1 4 3 4 8 4 0 4  6 4 4 0 3 3 8 0  8 3 0 0 5 0 3 3  3 5 1 1 3 3 8 3  0 5 4 8 5 3 8 1  8 1 1 8 3 0 0 0 /
1 1 3 0 3 8 4 4  3 1 4 4 4 8 4 1  3 1 5 1 3 3 1 3  3 4 4 0 8 8 3 3  0 3 1 3 8 3 4 8  4 1 3 3 4 3 0 1  0 5 1 3 1 1 5 3  3 0 4 0 0 0 0 0 /
4 1 4 3 3 3 0 8  3 4 3 1 1 1 0 5  5 1 0 1 4 4 3 3  3 4 8 0 3 3 3 1  3 4 1 0 1 3 1 0  3 1 0 0 0 5 1 4  5 8 3 3 1 4 8 4  4 4 4 5 3 0 0 0 /
0 3 0 4 4 3 4 4  4 5 3 5 1 0 4 1  3 3 3 0 4 4 1 3  0 4 4 4 0 3 3 3  5 8 8 1 4 5 3 8  4 4 1 3 8 8 3 0  3 8 3 3 4 0 4 0  0 4 0 4 4 0 0 0 /
3 0 8 1 0 3 4 8  0 3 1 8 1 1 1 4  4 0 0 1 5 1 0 4  4 4 3 3 0 1 8 3  1 4 1 4 1 4 1 3  4 4 1 3 8 4 4 4  0 0 0 0 1 1 1 1  1 4 0 8 1 0 0 0 /
0 3 8 1 4 4 4 8  0 3 8 4 0 8 3 3  0 0 4 4 0 3 4 4  1 4 8 5 3 1 4 1  4 1 3 3 4 4 0 1  8 3 3 0 4 1 3 3  4 5 1 0 5 0 8 4  0 8 4 5 8 0 0 0 /
0 3 1 4 3 1 4 4  4 4 1 8 0 3 1 0  1 5 0 4 4 3 1 5  8 8 1 1 3 3 1 1  3 3 1 3 3 8 4 5  3 5 3 1 4 4 0 0  3 3 4 4 5 4 0 3  3 1 1 3 4 0 0 0 /
4 4 1 8 0 3 3 3  0 1 8 1 4 8 1 0  1 1 8 3 8 4 1 4  3 6 3 0 4 4 3 3  1 0 3 4 8 4 3 3  8 8 3 4 1 3 8 3  1 3 3 3 0 4 4 8  4 4 8 4 0 0 0 0 /
8 3 8 3 3 8 4 0  3 5 5 4 1 3 0 3  3 1 4 5 3 4 4 1  3 8 0 3 0 4 4 3  1 0 1 4 4 1 3 0  3 1 1 4 8 3 0 3  8 5 8 0 3 4 3 8  3 4 8 3 3 0 0 0 /
3 8 5 4 3 3 3 8  4 8 8 4 1 3 8 1  0 3 0 1 0 0 3 1  0 0 0 8 8 4 1 4  4 3 0 8 3 8 4 1  1 4 5 3 4 4 1 4  3 4 3 0 0 3 3 1  3 3 8 0 3 0 0 0 /
8 0 8 3 1 8 4 4  8 8 1 0 0 1 0 3  8 1 3 4 4 0 1 5  5 4 0 4 1 0 4 4  3 3 1 0 4 4 3 8  5 3 8 1 8 3 4 3  1 0 5 4 0 1 4 3  3 1 3 3 0 0 0 0 /
1 0 1 0 8 3 1 1  1 0 4 4 0 4 3 0  0 4 3 4 4 0 8 4  0 1 1 0 3 8 3 8  0 0 1 3 4 3 1 1  1 0 0 3 3 1 3 0  0 1 1 1 4 1 3 3  0 0 1 4 0 0 0 0 /
3 3 4 4 3 4 5 4  4 4 0 0 0 5 1 3  1 1 8 3 3 1 1 4  1 0 3 0 4 4 3 4  5 8 3 3 4 0 1 4  3 4 4 0 1 3 1 0  4 4 3 3 1 8 3 1  1 3 1 5 4 0 0 0 /
4 4 0 1 4 0 0 0  1 0 1 4 1 4 4 3  4 5 4 4 4 3 3 1  1 3 1 0 3 3 5 1  4 8 4 3 3 4 4 3  1 8 3 0 0 8 4 1  1 8 3 0 0 3 0 0  3 0 0 8 4 0 0 0 /
3 1 8 4 8 4 4 1  3 1 0 3 4 3 0 1  0 4 0 4 3 3 4 1  1 3 4 4 0 1 1 3  3 5 5 4 3 3 8 0  8 3 5 0 0 3 5 1  3 4 5 1 4 8 4 4  4 4 3 4 4 0 0 0 /
}

\def\dataC{
2 2 3 0 4 2 4 3  0 2 3 4 0 0 0 1  4 3 2 1 5 3 3 5  2 1 2 5 0 5 3 3  1 2 0 0 2 1 0 1  0 3 2 2 2 4 3 2  2 3 2 2 2 2 2 3  2 4 3 2 3 7 0 0 /
2 0 0 2 4 5 2 3  3 1 4 0 3 3 3 0  2 3 3 4 3 2 4 3  3 2 2 3 2 3 3 3  0 3 2 1 0 1 1 0  2 3 3 0 2 0 2 1  2 4 3 3 3 3 3 5  0 1 4 1 2 0 0 0 /
3 2 1 2 3 3 3 3  3 3 1 1 3 0 0 3  2 3 3 3 2 3 3 0  4 0 1 1 1 2 4 0  0 2 3 4 2 2 3 3  4 3 3 2 4 2 1 2  3 3 3 5 4 4 4 3  3 3 3 0 0 0 0 0 /
2 2 1 2 2 2 2 0  0 0 3 4 2 2 0 2  1 4 2 2 5 0 3 3  0 0 3 1 0 1 2 3  2 1 2 0 3 3 2 0  1 2 0 2 0 4 1 2  0 3 3 4 2 3 3 3  3 1 4 3 2 0 0 0 /
1 3 3 4 5 4 3 0  1 5 3 3 0 2 3 1  0 4 1 0 3 4 1 3  1 3 0 3 3 4 2 1  3 1 2 3 2 5 2 3  0 3 2 2 1 1 2 0  4 0 2 0 1 1 1 3  2 2 4 3 2 0 0 0 /
3 2 1 5 0 3 0 4  3 3 3 1 2 2 3 2  2 0 3 3 3 2 3 2  3 0 2 4 3 3 1 2  2 3 3 1 4 1 3 3  3 3 3 0 3 0 2 5  4 0 4 3 1 0 3 2  2 1 3 3 2 0 0 0 /
0 3 1 4 1 2 3 0  1 3 5 2 1 2 2 4  2 4 1 3 1 3 2 0  1 4 3 3 2 3 3 0  1 1 5 0 2 0 2 0  1 0 3 3 2 1 2 2  0 1 2 5 2 4 3 1  3 0 3 1 4 0 0 0 /
1 3 2 1 1 3 4 1  1 5 2 2 2 1 2 1  3 0 1 0 4 2 3 3  1 3 1 2 2 5 2 2  2 1 2 3 4 3 3 1  4 0 3 4 3 3 0 3  4 0 2 4 2 2 2 1  1 1 4 2 0 0 0 0 /
6 0 2 1 4 3 3 0  2 3 0 1 2 1 3 2  5 1 5 2 1 4 2 0  4 2 4 1 3 5 2 5  2 2 1 4 4 1 3 3  2 3 4 3 3 3 1 0  3 2 2 0 2 2 3 3  2 2 3 3 3 0 0 0 /
6 0 4 1 4 3 3 0  2 2 0 0 3 1 6 1  3 3 2 3 3 2 3 1  0 2 2 2 2 4 3 0  4 3 3 2 2 3 3 2  2 3 0 2 2 2 2 2  0 3 3 3 3 4 3 3  3 0 0 0 2 0 0 0 /
2 2 4 0 4 2 2 0  3 1 0 3 1 3 1 2  2 4 2 3 2 1 0 3  3 4 0 1 3 2 3 3  0 1 2 0 0 4 4 1  3 0 2 3 2 0 1 2  3 0 2 3 2 2 0 3  0 1 1 2 3 0 0 0 /
1 3 1 1 2 3 2 3  2 1 0 4 1 3 1 4  2 5 2 0 1 2 2 3  0 2 1 1 1 0 1 1  4 2 3 2 2 3 3 0  2 2 5 6 4 2 3 3  3 3 1 0 2 2 4 0  3 0 0 4 2 0 0 0 /
1 2 0 0 2 2 3 3  1 0 1 0 4 0 2 4  0 4 2 3 1 3 2 2  0 1 2 0 0 3 4 1  3 2 2 3 0 0 3 4  1 4 1 3 0 2 1 2  2 2 0 0 5 1 3 2  3 1 2 3 0 0 0 0 /
3 3 4 3 3 3 2 2  0 1 3 4 2 6 1 3  5 2 3 2 3 0 1 2  5 3 3 1 0 3 0 0  3 2 3 3 2 2 2 2  1 3 1 2 2 1 3 4  3 1 0 0 2 2 2 2  2 2 2 0 3 0 0 0 /
3 5 2 1 2 3 3 2  3 4 3 0 2 4 5 0  2 1 1 2 2 3 3 3  5 2 2 1 0 4 3 1  3 3 3 4 0 3 3 3  2 5 1 3 2 2 3 4  2 2 2 2 2 1 4 3  1 4 3 4 3 0 0 0 /
2 2 3 0 0 1 4 0  3 0 2 0 2 0 2 1  3 3 2 2 0 3 3 3  0 3 1 2 0 3 0 2  4 1 3 0 2 1 3 3  3 4 2 1 2 1 5 0  2 2 0 2 2 2 0 0  0 2 3 0 2 0 0 0 /
3 4 3 0 2 0 3 1  5 1 2 0 2 0 4 2  6 0 5 2 4 2 0 0  0 2 0 3 1 2 4 0  1 3 0 0 2 5 3 3  5 3 2 1 0 3 3 2  2 0 0 0 2 2 4 3  3 5 0 0 2 0 0 0 /
1 2 4 3 2 3 3 5  3 1 2 2 0 4 4 2  2 1 3 4 0 3 2 3  4 2 2 0 2 1 0 3  3 0 3 1 3 1 3 0  0 1 2 1 0 0 2 4  3 4 0 1 4 0 3 3  3 2 2 3 4 0 0 0 /
0 3 1 3 4 2 2 0  2 2 5 2 4 3 3 2  4 4 2 0 0 3 3 1  2 3 3 2 2 4 3 2  4 2 0 1 4 3 3 1  0 0 1 2 4 0 3 0  3 0 0 3 1 2 0 0  0 2 2 1 3 0 0 0 /
1 1 2 3 0 1 2 1  3 4 3 1 5 0 1 2  4 2 0 4 2 2 3 1  4 1 1 0 0 4 2 1  0 3 3 2 0 3 3 3  0 3 4 2 2 0 4 2  4 3 1 0 2 2 1 3  3 0 4 1 4 0 0 0 /
3 1 5 1 0 1 4 1  0 3 0 3 5 2 0 0  4 0 4 1 0 3 3 3  2 1 5 0 2 1 2 0  3 0 3 1 0 1 3 2  2 1 0 2 2 3 1 3  3 2 3 3 3 5 0 2  3 0 0 2 2 0 0 0 /
4 0 3 3 4 0 3 1  0 5 3 4 5 1 5 4  2 5 3 3 4 3 0 3  4 0 0 0 0 3 1 4  4 2 2 0 1 0 1 3  2 2 2 0 5 0 0 1  0 3 3 2 0 3 5 0  0 2 2 3 0 0 0 0 /
0 2 5 3 3 3 2 1  1 2 3 1 1 5 0 1  3 2 2 0 5 1 2 3  0 4 1 2 2 2 3 3  4 3 4 1 2 0 3 4  1 2 5 3 1 3 1 1  2 1 2 4 1 1 2 3  4 0 1 2 2 0 0 0 /
3 2 2 2 3 1 3 0  4 2 0 4 3 4 5 1  4 5 2 4 5 3 2 0  3 2 1 0 3 0 5 3  3 2 2 3 3 3 1 2  4 4 3 5 2 2 4 3  5 2 1 0 3 0 4 2  4 2 1 1 3 0 0 0 /
4 3 3 4 0 4 3 2  0 0 1 1 1 2 0 2  0 4 3 2 0 0 3 3  1 0 0 5 1 1 2 2  5 1 0 4 3 3 3 3  2 2 4 1 0 0 2 0  0 1 2 3 2 2 0 1  1 0 0 0 0 6 0 7 /
2 1 2 2 2 3 1 2  1 0 4 3 1 2 0 3  4 2 4 1 0 0 0 0  0 5 4 3 0 1 2 3  3 3 1 1 0 2 4 2  0 2 2 5 0 2 2 3  2 2 2 4 0 3 0 0  2 2 3 1 2 0 0 0 /
0 3 1 3 0 3 1 3  3 0 0 1 3 1 2 2  2 2 3 3 4 3 4 0  0 5 1 5 0 2 2 4  4 3 2 0 3 1 3 0  0 3 1 2 0 3 0 4  2 3 2 3 3 3 1 1  3 2 3 1 0 0 5 4 /
2 0 4 2 2 3 3 0  4 0 4 2 0 0 2 0  0 4 4 2 1 0 1 3  0 0 0 4 5 1 0 3  3 3 0 0 3 1 3 2  2 5 4 4 4 0 3 3  0 2 1 3 3 0 3 2  4 0 0 1 0 0 0 0 /
2 2 0 1 2 4 4 1  1 1 3 3 3 1 3 4  1 3 3 3 2 1 0 1  6 1 0 2 2 2 1 2  2 2 2 2 2 2 0 1  2 1 0 0 1 2 3 1  0 1 3 0 5 5 1 3  2 0 2 2 3 0 0 0 /
4 2 3 2 4 3 4 0  4 0 3 5 2 1 2 3  4 4 0 1 2 3 2 3  0 3 3 0 4 2 5 3  3 3 0 2 0 1 0 1  2 4 2 3 3 4 4 1  1 1 3 2 0 0 3 3  3 0 3 2 1 0 0 0 /
3 2 0 3 2 3 1 0  2 0 2 5 2 2 0 2  3 3 2 0 1 2 2 3  1 3 3 2 1 3 3 5  2 2 2 2 3 3 1 0  1 2 4 3 3 1 0 1  0 2 5 3 3 0 3 2  3 2 2 2 1 0 0 0 /
4 1 2 3 4 2 3 1  0 2 1 4 0 3 3 0  3 0 0 3 0 1 1 4  4 0 2 3 2 3 1 2  4 3 3 3 1 3 1 4  3 1 3 3 2 3 4 0  4 2 2 2 1 4 3 3  3 1 2 4 1 0 0 0 /
3 0 5 0 2 2 0 2  0 0 1 4 2 4 1 0  2 2 3 3 4 4 4 5  2 3 3 0 0 3 2 2  4 1 2 3 0 0 3 1  0 0 1 2 1 0 3 3  3 1 0 3 3 4 1 5  5 1 3 3 5 0 0 0 /
4 0 2 4 2 4 1 5  3 4 3 2 2 4 1 4  4 2 1 2 2 2 0 2  3 1 0 3 1 2 2 3  4 1 2 2 4 3 3 3  1 0 3 4 2 0 2 1  2 4 1 2 3 4 3 1  3 4 3 4 4 0 0 0 /
2 5 3 0 4 2 3 1  0 2 5 2 3 4 1 1  3 3 0 3 4 2 2 0  3 4 1 3 5 5 2 4  2 0 3 3 4 3 2 2  3 4 3 0 0 2 4 4  0 0 2 2 0 2 2 4  3 0 0 3 5 0 0 0 /
1 1 2 2 0 4 1 3  4 3 0 0 3 1 3 2  0 2 2 3 2 4 3 3  0 3 4 3 4 3 4 4  5 2 2 5 4 0 3 3  1 3 1 2 4 3 3 4  1 0 1 0 3 3 5 2  0 2 4 2 2 0 0 0 /
2 1 3 2 5 2 0 2  3 3 4 2 4 1 3 3  3 2 3 1 0 3 3 2  0 2 2 1 0 3 3 2  0 3 4 1 2 0 0 1  2 2 4 3 3 4 2 2  2 2 3 2 2 0 2 3  0 0 2 2 4 0 0 0 /
2 2 2 2 2 3 4 3  4 3 0 2 1 3 4 1  1 5 3 2 4 1 3 4  2 3 3 1 2 1 2 0  1 2 2 2 4 3 3 0  4 2 3 3 3 3 3 3  3 3 3 3 0 1 3 4  2 2 2 4 4 0 0 0 /
0 3 3 3 1 2 3 0  4 4 5 1 3 3 0 0  2 4 3 0 3 2 3 3  2 1 3 3 0 0 1 4  2 4 0 2 3 3 4 2  3 4 2 2 4 2 0 0  1 4 4 3 0 2 4 1  1 2 1 2 0 0 0 0 /
2 3 2 0 0 0 2 3  0 1 2 3 0 3 2 2  2 2 5 1 2 2 3 2  0 1 1 3 3 0 2 0  1 2 0 2 2 3 0 3  5 2 4 3 3 3 2 1  3 3 0 2 4 2 5 0  3 4 4 3 3 0 0 0 /
1 2 2 3 2 0 4 1  0 4 1 2 3 2 2 1  2 2 1 3 2 0 3 3  1 3 0 4 3 3 4 3  0 3 3 2 2 4 2 4  3 3 2 3 2 2 2 4  1 2 2 2 2 1 4 2  0 1 3 3 0 0 0 0 /
0 4 4 1 3 1 3 3  3 0 5 3 3 4 0 3  3 3 4 1 2 3 1 3  3 3 1 3 4 2 4 4  1 3 0 0 2 2 3 5  3 2 1 3 3 0 3 1  2 1 2 3 3 4 3 3  4 2 2 3 0 0 0 0 /
3 2 3 3 1 3 3 1  3 5 2 3 1 1 3 3  2 2 2 2 2 4 3 1  3 4 0 0 3 1 0 1  4 5 3 3 4 0 4 3  4 4 4 3 3 3 3 3  3 2 5 3 1 1 3 2  3 2 0 2 0 0 0 0 /
2 5 5 2 2 3 3 3  4 4 4 0 1 0 3 2  2 2 2 2 0 1 3 2  1 4 0 5 3 3 2 3  3 2 1 4 3 2 3 3  1 3 3 2 3 2 2 1  3 0 1 0 1 1 2 2  1 0 4 3 2 0 0 0 /
1 0 2 5 3 1 1 2  1 3 1 1 2 0 0 3  2 5 0 2 1 0 2 2  1 0 2 0 0 0 1 2  2 1 3 3 3 3 3 1  2 3 0 2 2 3 1 0  2 1 0 2 2 1 3 0  1 0 3 0 2 0 0 0 /
1 2 1 3 0 0 1 2  3 3 2 0 4 3 0 0  2 1 2 2 0 3 3 3  1 3 3 2 3 1 2 0  3 3 3 4 5 3 0 2  2 3 3 2 1 2 0 0  1 1 0 0 0 0 5 4  5 4 2 2 4 0 0 0 /
2 1 0 3 4 4 5 3  3 4 3 1 2 2 3 3  3 3 3 3 4 1 0 4  6 5 4 3 3 4 1 0  2 0 0 2 3 1 1 4  0 0 3 1 2 0 2 2  2 2 2 5 0 2 3 2  3 2 3 2 2 0 0 0 /
0 1 1 0 2 4 0 3  0 2 2 3 0 2 1 2  3 2 5 2 3 1 3 0  4 0 3 3 0 1 3 3  1 3 4 2 0 0 5 3  3 4 3 5 0 1 2 3  3 3 0 1 0 1 4 1  4 1 1 0 3 0 0 0 /
2 1 3 2 1 2 0 3  0 2 2 2 0 2 1 2  3 3 3 5 0 2 2 4  1 2 2 1 0 3 0 1  3 3 3 2 1 1 0 1  2 2 0 2 3 3 5 1  0 1 2 5 2 1 3 1  0 1 2 5 5 0 0 0 /
2 1 1 3 1 3 3 3  0 4 1 2 0 1 5 0  4 2 1 3 2 3 2 0  2 0 1 2 0 2 4 2  2 0 1 4 1 2 0 0  3 3 3 1 3 2 3 0  3 4 2 3 3 0 2 4  2 0 2 0 3 0 0 0 /
4 0 2 1 3 1 3 6  1 2 0 2 2 3 3 1  2 3 3 1 5 2 1 3  1 3 1 2 0 1 2 3  3 3 5 3 0 3 4 2  2 2 2 3 2 3 0 2  2 2 3 5 3 3 3 1  1 2 2 4 1 0 0 0 /
2 3 5 0 2 3 0 1  3 2 0 3 3 2 1 4  3 3 2 0 0 4 2 4  1 3 0 2 2 0 5 1  2 3 0 3 0 2 2 2  2 3 2 2 3 1 0 2  2 0 3 1 5 2 1 5  2 3 4 5 2 0 0 0 /
2 0 2 2 2 1 0 0  2 2 0 4 0 3 0 2  5 2 1 3 1 5 3 3  1 0 6 4 2 0 3 0  0 1 2 2 2 1 4 3  3 3 4 2 0 0 0 0  1 3 3 0 3 1 2 0  1 1 2 2 2 0 0 0 /
2 1 0 2 3 3 0 3  3 3 1 0 2 4 2 2  4 0 1 5 0 3 3 2  2 0 6 0 0 2 2 2  1 1 1 2 1 2 3 2  1 3 3 3 2 1 2 1  1 3 2 1 1 2 2 2  3 2 2 3 2 0 0 0 /
4 2 2 4 2 4 3 3  2 2 0 0 0 1 0 2  0 3 4 1 0 0 1 2  2 3 5 2 2 1 4 2  0 2 1 1 1 2 1 3  1 1 3 3 4 4 1 1  2 4 0 4 0 3 2 3  3 3 2 5 1 0 0 0 /
3 3 1 3 3 3 2 3  3 3 2 3 4 4 2 2  3 0 2 2 0 1 0 2  0 2 1 3 2 2 0 0  3 2 1 2 4 4 5 2  2 3 3 1 4 3 3 1  4 2 2 3 2 3 0 3  3 3 2 0 3 0 0 0 /
2 3 4 1 0 3 1 3  1 1 2 0 0 1 1 3  1 0 3 2 0 3 1 2  5 0 3 4 2 3 3 2  4 0 3 1 2 3 3 2  4 3 0 5 3 2 3 3  0 2 1 0 2 0 0 4  4 2 1 1 5 0 0 0 /
0 1 2 1 2 4 1 3  4 1 0 3 1 0 3 3  3 2 3 3 1 4 2 3  0 1 2 0 0 4 2 2  2 2 2 2 2 0 0 3  3 0 0 1 2 1 1 3  2 1 3 4 2 2 1 2  1 0 1 0 0 0 0 0 /
3 3 3 0 3 0 5 0  3 2 1 1 5 2 5 2  2 3 0 0 5 2 5 3  3 1 2 2 3 0 3 0  3 2 5 3 3 0 3 1  3 1 0 0 2 1 1 2  0 0 3 3 0 1 1 1  1 3 1 4 4 0 0 0 /
3 2 1 1 2 3 0 0  5 1 2 2 0 3 2 3  0 1 1 3 3 3 3 4  4 0 1 3 4 3 5 1  3 2 0 3 3 3 4 1  1 5 3 0 3 2 1 2  0 1 4 3 0 1 3 1  3 0 1 3 2 0 0 0 /
2 0 2 1 3 4 3 3  1 1 2 3 1 2 2 3  0 1 0 0 3 0 0 0  0 3 1 3 1 3 2 2  2 1 3 4 1 5 1 5  3 2 2 1 3 1 1 2  4 4 3 0 3 0 2 3  3 0 0 2 0 0 0 0 /
}

\def\dataD{
2 4 1 0 2 2 2 1  3 0 1 3 3 3 1 2  4 1 1 1 4 3 2 4  0 1 0 5 2 4 1 4  2 3 2 1 0 0 2 3  2 1 1 3 0 4 4 1  3 0 2 1 1 3 3 2  2 5 0 4 3 0 0 0 /
0 2 3 2 2 4 1 1  2 1 3 1 1 1 1 2  2 3 5 3 1 4 4 3  0 3 3 1 0 2 2 0  0 0 1 0 2 3 2 1  2 0 2 1 2 3 0 3  2 3 3 2 2 6 2 1  2 1 1 2 1 0 0 0 /
2 2 0 0 2 0 2 3  3 2 2 0 2 0 0 2  2 0 3 4 3 2 2 0  2 2 2 3 2 2 2 1  3 3 3 4 3 3 2 3  3 4 3 3 2 3 0 2  1 2 2 3 2 1 0 2  2 2 5 3 2 0 0 0 /
0 1 0 1 2 1 2 1  1 1 4 0 1 0 1 0  0 4 0 3 0 3 3 3  0 0 3 0 3 0 0 3  2 0 2 3 4 2 1 0  1 0 3 3 3 3 0 3  2 0 2 0 3 2 0 2  3 1 0 2 2 0 0 0 /
2 2 3 1 0 3 3 3  3 2 1 2 3 1 2 1  1 2 0 2 3 1 1 0  1 0 2 2 4 2 1 2  0 0 3 3 3 2 2 2  3 0 2 0 1 3 2 3  0 1 1 1 0 2 3 1  1 0 0 2 3 0 0 0 /
4 2 0 3 0 0 2 3  3 3 4 0 3 3 1 0  0 3 3 2 2 1 3 3  0 2 1 4 1 3 2 0  2 3 2 2 2 2 1 0  1 3 1 2 0 2 1 2  2 2 2 5 2 2 2 3  0 1 3 2 4 0 0 0 /
0 2 2 3 2 1 3 1  0 0 4 0 1 3 0 0  3 5 0 0 2 0 3 3  2 3 1 1 3 2 4 2  2 1 4 1 3 1 2 1  3 2 1 3 2 1 3 0  1 2 0 2 2 1 1 2  2 1 0 0 2 5 0 0 /
2 2 0 1 0 2 1 3  0 4 1 0 0 2 0 0  2 0 3 2 4 2 2 0  3 3 3 0 2 2 2 2  1 1 3 3 2 1 2 2  0 2 2 4 3 0 2 1  1 1 1 2 2 3 2 2  2 0 2 1 1 0 0 0 /
5 0 3 0 3 1 2 1  2 2 2 1 3 2 0 0  3 4 2 4 2 4 0 2  0 0 0 5 1 2 5 1  2 2 2 4 2 4 2 0  2 2 1 2 3 2 2 1  0 0 2 0 0 0 1 3  3 1 2 2 4 0 0 0 /
2 1 0 3 1 3 3 2  2 3 3 2 2 4 0 2  3 2 3 3 1 2 1 1  2 3 1 0 3 4 3 0  3 2 3 3 2 2 1 1  4 0 3 1 1 1 2 3  3 0 3 0 2 2 2 2  2 2 3 2 1 0 2 0 /
2 0 0 2 0 4 3 3  2 2 1 3 1 3 1 3  0 1 3 3 3 3 2 0  2 3 0 3 3 3 2 2  3 2 2 2 3 2 2 2  3 3 2 2 1 0 0 2  2 4 1 2 2 0 2 2  0 2 2 3 3 0 4 0 /
2 0 0 1 2 2 0 1  1 1 3 3 0 0 0 4  1 1 0 1 3 1 2 2  1 0 0 1 1 1 1 4  3 1 2 1 1 2 3 4  2 1 5 3 4 3 2 2  4 2 1 4 0 3 3 1  1 0 2 3 2 0 0 0 /
0 3 1 2 3 1 2 2  0 1 2 0 3 3 0 3  1 0 2 1 2 4 2 0  3 0 2 1 0 1 0 3  0 3 2 1 4 2 3 4  4 2 3 0 1 2 0 1  0 2 0 1 2 3 2 3  3 0 3 2 1 1 0 0 /
3 4 3 4 3 3 4 2  3 3 2 4 2 2 4 3  3 3 0 2 2 0 1 2  0 1 3 3 0 1 3 2  1 0 1 0 3 4 0 3  2 1 1 0 1 2 0 2  3 4 1 3 2 2 1 3  1 2 3 4 3 0 0 0 /
2 5 3 0 0 3 2 3  2 4 3 2 2 0 5 1  4 0 4 0 3 4 2 2  0 3 2 0 0 3 3 3  3 4 1 1 2 3 2 3  0 0 0 1 3 1 4 2  3 3 2 3 2 3 5 1  1 3 0 3 3 0 0 0 /
2 0 3 1 2 2 4 1  0 1 1 1 0 1 2 1  3 3 2 0 3 2 2 1  1 0 0 0 0 1 3 3  2 3 3 1 0 2 2 0  2 4 3 0 1 3 5 1  1 4 3 2 0 1 2 0  1 0 3 1 1 0 0 0 /
2 2 3 2 1 1 3 0  5 2 2 0 0 2 4 5  3 1 3 1 3 3 2 3  4 2 2 3 2 0 3 0  3 2 3 2 2 5 4 1  3 1 1 1 0 2 2 0  3 2 2 1 2 2 0 3  3 4 2 3 0 0 0 0 /
1 2 3 2 2 2 3 5  3 3 3 3 0 4 3 2  0 4 4 4 2 3 3 0  3 3 3 4 1 0 2 3  0 0 0 0 2 1 2 1  1 2 2 1 1 0 0 3  5 0 4 2 0 2 1 2  3 3 0 1 3 1 2 0 /
3 4 3 3 5 3 3 2  1 2 3 3 0 3 4 3  0 1 3 2 1 2 2 4  3 4 2 0 1 3 2 2  4 2 1 2 0 4 2 2  0 3 2 2 1 1 1 2  3 1 0 1 2 2 2 0  2 1 0 0 0 0 0 0 /
2 1 2 0 1 2 2 2  2 2 3 3 5 2 2 0  0 0 0 0 1 3 3 1  0 2 2 1 1 3 5 2  1 2 2 3 1 1 2 3  0 3 3 3 2 3 3 3  3 3 0 3 1 2 2 2  2 2 2 3 0 1 0 0 /
3 3 2 3 3 3 2 3  3 0 2 0 4 2 1 3  5 1 3 2 1 0 1 3  1 1 0 0 3 3 0 1  1 0 2 0 0 2 2 1  2 0 3 3 2 2 1 1  0 3 2 2 5 3 3 0  2 0 3 0 0 0 0 0 /
3 3 0 3 3 1 3 1  2 2 1 3 3 5 3 3  2 2 0 4 3 2 0 1  3 3 2 3 3 3 1 1  1 1 2 2 3 0 3 2  1 1 3 3 3 3 2 3  1 3 1 3 3 4 4 4  3 4 4 0 2 0 0 0 /
0 2 2 0 1 0 3 2  3 3 4 4 2 3 3 2  2 2 1 2 0 1 3 2  2 2 3 3 3 3 3 3  4 0 3 2 2 0 1 2  2 3 5 3 1 3 2 1  0 1 2 0 2 4 3 4  4 0 2 0 0 2 0 0 /
3 3 1 1 3 2 0 2  0 0 1 1 4 4 1 4  3 2 5 2 3 3 2 1  1 2 3 2 3 3 2 2  0 3 3 3 0 3 0 2  3 3 2 2 1 3 3 3  3 0 0 3 1 4 2 4  4 2 4 2 0 0 0 0 /
2 2 1 1 1 0 1 0  0 0 1 1 0 2 2 1  0 3 0 1 1 3 1 3  0 2 0 5 2 3 1 2  0 0 4 3 3 2 3 3  2 1 2 3 2 3 2 0  0 0 1 4 0 0 0 2  2 0 1 2 2 6 0 7 /
2 2 3 3 0 2 0 0  1 0 4 5 2 3 0 0  0 4 0 3 4 2 0 0  1 2 0 5 3 3 0 1  1 1 0 1 2 1 3 3  3 0 1 0 3 2 4 2  2 3 1 2 4 2 2 0  2 0 1 0 3 0 0 0 /
0 0 4 2 0 2 1 1  3 1 0 3 1 3 3 2  2 4 0 2 4 2 3 0  3 3 2 2 4 2 1 2  1 4 0 2 0 2 0 0  2 2 2 2 2 5 2 3  3 0 1 0 2 1 1 3  1 1 3 3 2 0 5 4 /
2 3 2 1 0 1 3 1  0 3 2 0 2 3 2 2  2 4 0 2 1 1 0 1  4 4 0 3 2 2 3 0  3 1 0 1 2 1 2 0  4 4 0 3 1 2 3 1  1 0 1 2 4 0 3 3  3 1 0 0 1 0 0 0 /
3 2 2 0 3 0 3 0  2 1 2 0 0 2 2 4  0 2 3 3 2 2 1 4  6 0 3 2 0 3 2 2  1 1 1 2 0 2 2 3  0 2 2 3 2 2 2 1  1 1 2 4 0 2 2 3  2 0 0 2 2 0 0 0 /
3 3 2 0 1 3 2 5  1 3 3 1 5 2 3 2  4 3 2 3 2 3 3 1  2 4 0 3 3 5 3 1  2 0 1 0 1 2 0 2  3 3 2 1 3 0 4 0  3 3 4 3 0 1 3 3  2 1 1 2 4 0 0 0 /
0 2 1 1 0 3 2 1  2 1 3 1 2 1 3 0  2 0 0 2 2 2 2 2  2 2 2 3 2 2 5 4  1 0 1 0 2 3 3 3  2 1 0 3 3 0 1 0  1 2 2 3 2 1 3 1  3 1 0 2 1 0 0 0 /
2 1 3 1 2 0 3 1  0 3 2 0 1 0 0 3  1 0 0 2 2 4 3 0  3 1 1 0 4 3 2 3  3 3 3 1 2 3 1 4  1 3 4 3 1 3 3 1  3 1 4 3 2 4 3 1  1 2 3 3 1 0 0 0 /
3 0 2 1 2 2 0 1  2 3 2 2 2 3 3 2  3 0 4 1 3 1 1 2  1 2 0 3 0 0 2 3  0 2 3 2 3 2 3 2  2 2 2 1 1 3 3 4  1 1 2 2 0 1 1 0  0 1 4 2 5 0 0 0 /
1 1 3 2 4 4 1 3  0 3 0 4 2 2 3 3  2 2 2 4 1 3 3 0  3 3 2 0 0 3 1 1  0 2 1 3 0 3 3 2  0 1 1 2 4 1 3 0  2 1 2 1 2 0 2 3  2 2 2 3 3 0 0 0 /
2 3 1 1 5 3 1 2  2 3 2 1 2 3 2 3  2 1 3 3 3 0 1 0  3 0 0 1 2 4 4 3  3 2 2 0 2 1 2 0  3 2 3 0 2 1 5 1  1 2 1 2 1 1 4 2  2 1 1 3 0 0 0 0 /
2 0 1 1 0 3 1 1  0 2 2 0 2 3 0 0  2 1 0 2 0 1 0 1  3 0 3 0 3 0 2 4  2 3 4 4 0 3 0 3  3 1 1 2 4 1 3 3  2 3 2 4 4 0 0 3  0 0 3 3 3 0 0 0 /
0 3 2 2 3 0 2 3  1 1 2 2 2 0 2 0  2 1 0 2 2 3 1 3  1 0 1 1 3 0 4 2  1 3 0 3 3 0 3 4  2 0 2 1 2 1 0 3  0 0 2 1 3 3 2 0  3 2 0 2 3 0 0 0 /
2 3 1 3 1 2 4 2  4 3 1 0 3 4 3 0  0 4 3 0 2 1 2 3  1 2 3 1 2 3 0 2  2 3 3 3 0 3 2 3  3 3 2 1 1 1 4 3  3 3 2 0 1 2 2 2  2 2 3 3 2 0 0 0 /
1 2 3 1 1 3 0 2  4 2 0 1 1 3 3 1  2 1 4 3 1 2 2 3  2 1 2 1 1 2 1 1  3 1 1 2 4 2 1 1  4 3 2 0 3 2 0 3  4 2 0 1 2 2 2 2  2 2 3 2 2 0 0 0 /
1 3 3 0 1 1 1 2  0 2 3 0 0 0 3 2  2 4 1 3 3 0 1 1  2 1 2 0 2 2 0 1  3 3 2 2 1 0 2 1  0 2 3 1 4 2 1 0  2 2 2 0 1 3 0 0  3 0 3 3 0 0 0 0 /
0 3 0 2 0 2 2 2  2 2 1 0 3 3 1 2  1 3 0 3 0 1 1 3  2 0 2 1 1 2 0 2  1 1 0 3 0 3 3 1  4 1 0 1 2 0 3 0  0 2 2 2 0 0 0 3  3 0 3 1 2 0 0 0 /
2 1 0 3 3 4 3 2  3 5 3 4 0 2 2 2  2 2 0 1 3 2 2 2  2 4 1 1 3 1 0 2  2 0 2 1 1 2 3 1  0 2 0 3 1 0 0 3  3 1 1 0 0 1 2 0  1 2 0 3 2 2 1 0 /
3 2 3 1 1 2 2 2  0 1 1 1 3 0 2 2  3 3 2 3 0 3 3 2  0 3 0 4 2 1 3 3  1 3 1 1 1 2 4 3  3 4 4 3 2 3 3 3  2 2 1 1 3 0 2 4  0 2 4 2 4 0 0 0 /
0 4 2 2 2 4 3 3  0 0 0 0 0 4 2 0  2 1 2 3 3 4 2 0  2 3 0 4 3 2 2 1  1 3 3 3 1 1 3 3  3 1 2 3 2 0 3 1  3 4 1 3 0 3 1 0  1 2 3 0 1 4 2 0 /
3 1 2 2 3 0 1 1  3 3 1 2 4 0 1 0  3 0 2 4 0 0 2 0  2 1 1 1 1 2 0 2  3 3 2 2 1 3 0 3  4 2 0 3 0 0 3 1  0 3 2 3 2 3 0 0  2 0 0 0 3 0 0 0 /
1 3 2 2 0 4 1 4  3 3 0 1 0 3 3 0  2 3 3 0 1 3 3 3  3 2 2 3 3 0 4 0  0 1 2 1 2 2 1 1  2 3 3 2 2 4 1 4  2 1 0 0 1 3 3 0  3 0 3 2 3 0 0 0 /
2 2 2 2 3 0 1 1  4 1 1 2 1 0 3 3  2 3 1 4 0 0 2 5  3 0 3 0 2 2 0 2  1 0 2 2 0 3 3 5  1 3 3 3 2 1 1 2  0 2 4 4 3 1 2 0  1 2 0 1 1 0 0 0 /
2 1 1 0 0 3 1 0  2 3 1 1 4 3 2 3  3 4 1 3 2 0 2 3  0 0 2 3 0 1 2 2  3 3 1 0 3 3 3 0  0 3 3 3 2 2 3 2  0 0 1 0 0 3 2 2  2 0 3 1 2 0 0 0 /
3 0 2 4 3 3 4 4  0 0 3 0 3 3 2 4  2 0 3 3 1 2 0 0  2 1 0 0 1 2 3 3  1 0 2 2 1 2 0 2  4 0 0 0 0 0 5 3  3 3 2 4 1 5 2 3  3 0 4 5 3 0 0 0 /
0 3 2 1 0 2 1 2  0 3 3 1 1 2 1 0  4 4 4 0 1 0 3 2  2 2 2 0 1 0 2 2  1 3 0 2 2 1 3 3  0 1 3 0 2 3 1 4  3 1 2 3 0 3 2 2  2 2 0 1 3 0 0 0 /
3 1 0 2 3 2 2 5  2 0 2 0 3 3 3 3  0 1 0 0 5 3 0 0  1 3 2 1 1 1 2 1  2 1 1 1 3 2 2 3  0 0 1 2 1 3 3 2  2 2 1 1 2 1 2 0  0 2 2 4 0 0 0 0 /
2 1 4 2 1 3 2 3  3 2 2 2 5 2 0 1  3 3 3 2 0 3 2 0  3 2 3 3 3 4 0 2  2 2 2 2 0 3 0 3  0 2 3 3 1 0 0 0  1 1 2 0 5 1 2 3  2 2 3 0 0 0 0 0 /
0 3 2 1 0 2 0 2  0 0 2 2 2 1 2 5  3 0 2 1 2 4 0 1  4 2 0 2 1 1 3 3  0 3 1 0 3 3 3 2  1 2 1 2 3 0 1 3  3 1 0 1 2 0 3 0  3 0 1 2 0 0 0 0 /
1 0 1 0 0 1 2 2  0 2 3 2 0 1 0 0  3 3 5 3 0 0 5 3  1 1 2 2 2 2 2 1  2 1 3 3 0 2 1 0  3 2 1 1 0 1 4 3  1 2 0 2 0 1 1 2  1 2 2 1 1 0 0 0 /
0 1 1 3 4 3 2 3  4 0 3 3 0 2 1 4  3 1 3 2 2 3 3 3  3 0 1 3 3 3 4 2  2 2 2 2 2 4 1 0  2 3 3 1 3 0 4 0  3 4 3 2 4 1 1 4  2 1 4 0 1 0 0 0 /
4 4 1 3 3 3 0 3  4 3 3 4 1 2 2 0  2 0 1 0 3 1 4 1  0 2 2 5 3 2 3 1  3 3 2 5 1 2 2 1  3 0 1 4 1 3 3 2  0 3 3 3 3 3 3 3  3 3 3 4 2 0 0 0 /
1 0 2 2 0 3 0 0  1 3 1 1 2 0 2 0  0 0 1 1 0 2 5 1  0 1 2 2 3 3 3 1  1 2 3 2 0 4 4 4  2 4 3 3 0 0 3 2  2 0 1 4 0 2 1 2  4 0 3 1 0 0 0 0 /
2 1 1 3 2 2 1 0  0 0 0 0 0 4 3 0  0 3 0 4 5 4 3 2  0 2 0 0 5 0 1 1  0 2 1 3 3 1 2 3  2 3 3 0 2 0 1 1  1 2 2 1 2 3 2 0  2 0 1 1 0 0 0 0 /
1 0 3 0 3 1 4 3  3 3 1 2 2 1 3 3  0 4 1 0 3 3 2 3  2 1 1 2 3 3 3 5  3 3 0 2 2 0 3 1  2 1 3 0 3 3 2 1  1 2 3 0 3 2 1 1  2 1 1 3 0 0 0 0 /
3 0 0 1 2 2 2 2  1 1 0 2 1 0 0 0  0 3 3 0 1 3 3 2  5 2 3 0 3 4 2 2  0 3 1 3 3 2 3 3  3 0 4 3 2 2 3 1  0 3 0 0 0 2 1 1  2 2 0 2 0 0 0 0 /
0 0 3 0 3 2 3 1  3 3 0 1 3 3 3 2  0 2 1 2 0 1 0 1  1 0 3 0 0 1 0 3  2 4 3 2 3 3 3 2  1 2 0 2 3 3 3 0  4 4 2 3 0 2 1 3  2 1 3 1 0 0 0 0 /
}

\begin{document}
\begin{tikzpicture}
\path[use as bounding box] (0,0) rectangle (487.2pt,380.04pt);
\fill[pagebg] (5.6pt,3.2pt) rectangle (483.2pt,376.3pt);
\panel{129}{1762}{92}{1452}{\dataA}{0,1,2,4,5,6,7}
\panel{1920}{3542}{104}{1455}{\dataB}{0,1,2,4,5,6,7,8}
\panel{136}{1757}{1676}{3035}{\dataC}{0,1,2,4,5,6,7}
\panel{1895}{3542}{1672}{3042}{\dataD}{0,1,2,4,5,6,7}
\node[font=\arialfont\fontsize{12}{14}\selectfont] at (110.9pt,200.3pt) {A};
\node[font=\arialfont\fontsize{12}{14}\selectfont] at (326.9pt,199.7pt) {B};
\node[font=\arialfont\fontsize{12}{14}\selectfont] at (117.1pt,10.3pt) {C};
\node[font=\arialfont\fontsize{12}{14}\selectfont] at (325.3pt,9.7pt) {D};
\pgfmathsetmacro{\lh}{69.6*0.06+0.02}\xdef\cellh{\lh pt}\xdef\cellw{15.4pt}
\begin{axis}[at={(428.1pt,176.2pt)},anchor=south west,scale only axis,width=30.8pt,height=58.46pt,
 xmin=-0.5,xmax=0.5,ymin=-0.5,ymax=6.5,y dir=reverse,axis line style={draw=none},
 major tick length=0pt,xtick=\empty,ytick={0,...,6},
 yticklabels={0 to5,5 to 10,10 to 20,20 to 40,40 to 60,60 o 100,100 to 200},
 yticklabel pos=right,yticklabel style={anchor=west,font=\fontsize{6.4}{7}\selectfont,inner sep=0pt,xshift=0.7pt,xscale=0.76},
 clip=false]
 \addplot[only marks,mark=cell,color=c0] coordinates {(0,0)};
 \addplot[only marks,mark=cell,color=c1] coordinates {(0,1)};
 \addplot[only marks,mark=cell,color=c2] coordinates {(0,2)};
 \addplot[only marks,mark=cell,color=c3] coordinates {(0,3)};
 \addplot[only marks,mark=cell,color=c4] coordinates {(0,4)};
 \addplot[only marks,mark=cell,color=c5] coordinates {(0,5)};
 \addplot[only marks,mark=cell,color=c6] coordinates {(0,6)};
\end{axis}
\end{tikzpicture}
\end{document}
